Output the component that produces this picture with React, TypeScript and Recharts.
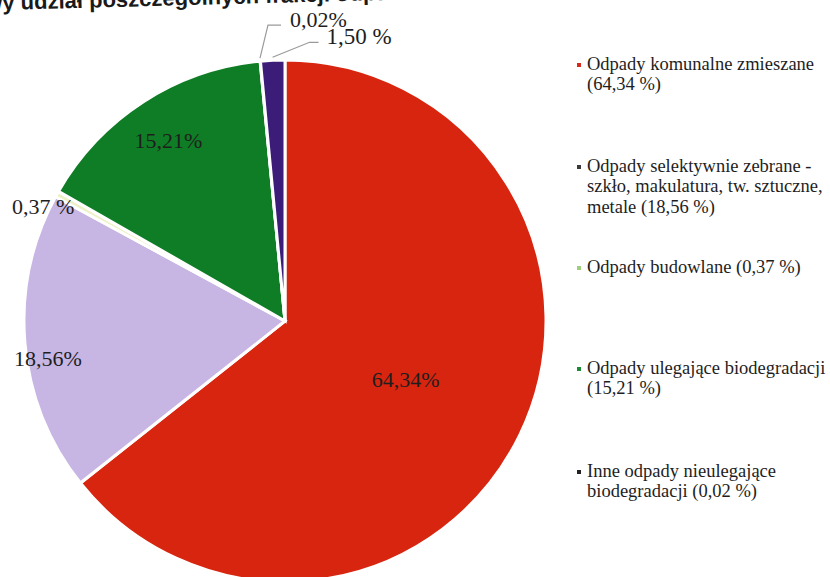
import React from "react";
import { PieChart, Pie, Cell, Legend } from "recharts";

// slices, clockwise from 12 o'clock
const categories = [
  "Odpady komunalne zmieszane",
  "Odpady selektywnie zebrane - szkło, makulatura, tw. sztuczne, metale",
  "Odpady budowlane",
  "Odpady ulegające biodegradacji",
  "Inne odpady nieulegające biodegradacji",
  "Pozostałe",
];
const shares = [64.34, 18.56, 0.37, 15.21, 0.02, 1.5];
const sliceLabels = ["64,34%", "18,56%", "0,37 %", "15,21%", "0,02%", "1,50 %"];

const legendLines = [
  ["Odpady komunalne zmieszane", "(64,34 %)"],
  ["Odpady selektywnie zebrane -", "szkło, makulatura, tw. sztuczne,", "metale  (18,56 %)"],
  ["Odpady budowlane (0,37 %)"],
  ["Odpady ulegające biodegradacji", "(15,21 %)"],
  ["Inne odpady nieulegające", "biodegradacji (0,02 %)"],
];

const title = "Procentowy udział poszczególnych frakcji odpadów w masie";

const sliceColors = ["#d8250f", "#c7b5e4", "#eef1c6", "#0f7d25", "#2a2a2a", "#3b1c78"];
const legendColors = ["#d62a1c", "#3a3a3a", "#9fcd7e", "#1d8a38", "#222222"];

const data = categories.map((name, i) => ({ name, value: shares[i] }));

const RAD = Math.PI / 180;
const FONT = '"Liberation Serif", "Times New Roman", serif';
const TEXT = "#1e1e1e";

// where the in/near-slice labels sit, relative to each slice's mid angle
const labelPos = [
  { r: 134, dx: 0, dy: 0 },
  { r: 238, dx: 0, dy: 17 },
  { r: 262, dx: -13, dy: 13 },
  { r: 215, dx: 0, dy: 0 },
];
// leader lines for the two slices at the top
const leaders: Record<number, { ex: number; ey: number; hx: number; tx: number; ty: number; size: number }> = {
  4: { ex: 8, ey: -33, hx: 13, tx: 9, ty: 2, size: 22 },
  5: { ex: 37, ey: -15, hx: 9, tx: 8, ty: 2, size: 23 },
};

const renderLabel = (props: any) => {
  const { cx, cy, midAngle, outerRadius, index } = props;
  const polar = (r: number) => [
    cx + r * Math.cos(-midAngle * RAD),
    cy + r * Math.sin(-midAngle * RAD),
  ];
  const lead = leaders[index];
  if (lead) {
    const [sx, sy] = polar(outerRadius + 3);
    const ex = sx + lead.ex;
    const ey = sy + lead.ey;
    const hx = ex + lead.hx;
    return (
      <g>
        <polyline
          points={`${sx},${sy} ${ex},${ey} ${hx},${ey}`}
          fill="none"
          stroke="#9a9a9a"
          strokeWidth={1.2}
        />
        <text x={hx + lead.tx} y={ey + lead.ty} fill={TEXT} fontFamily={FONT} fontSize={lead.size}>
          {sliceLabels[index]}
        </text>
      </g>
    );
  }
  const p = labelPos[index];
  const [x, y] = polar(p.r);
  return (
    <text
      x={x + p.dx}
      y={y + p.dy}
      fill={TEXT}
      fontFamily={FONT}
      fontSize={22}
      textAnchor="middle"
      dominantBaseline="central"
    >
      {sliceLabels[index]}
    </text>
  );
};

const legendBaselines = [70, 172, 273, 374, 477];

const LegendBox = () => (
  <div style={{ position: "relative", width: 830, height: 0 }}>
    {legendLines.map((lines, i) => (
      <React.Fragment key={i}>
        <span
          style={{
            position: "absolute",
            left: 577,
            top: legendBaselines[i] - 7,
            width: 4,
            height: 4,
            background: legendColors[i],
          }}
        />
        <div
          style={{
            position: "absolute",
            left: 587,
            top: legendBaselines[i] - 16.5,
            fontFamily: FONT,
            fontSize: 18.5,
            lineHeight: "20.5px",
            color: TEXT,
            whiteSpace: "nowrap",
            textAlign: "left",
          }}
        >
          {lines.map((l, j) => (
            <div key={j}>{l}</div>
          ))}
        </div>
      </React.Fragment>
    ))}
  </div>
);

export default function App() {
  return (
    <div
      style={{
        position: "absolute",
        left: 0,
        top: 0,
        width: 830,
        height: 577,
        overflow: "hidden",
        background: "#fff",
      }}
    >
      <div
        style={{
          position: "absolute",
          left: -110,
          top: -10,
          fontFamily: '"Liberation Sans", Arial, sans-serif',
          fontWeight: 700,
          fontSize: 22,
          lineHeight: "25px",
          color: "#1a1a1a",
          whiteSpace: "nowrap",
          transform: "rotate(-1.5deg)",
          transformOrigin: "110px 20px",
        }}
      >
        {title}
      </div>
      <PieChart
        width={830}
        height={577}
        margin={{ top: 0, right: 0, bottom: 0, left: 0 }}
        style={{ position: "absolute", left: 0, top: 0 }}
      >
        <Pie
          data={data}
          dataKey="value"
          nameKey="name"
          cx={285}
          cy={321}
          outerRadius={261}
          startAngle={90}
          endAngle={-270}
          stroke="#ffffff"
          strokeWidth={3}
          label={renderLabel}
          labelLine={false}
          isAnimationActive={false}
        >
          {data.map((d, i) => (
            <Cell key={d.name} fill={sliceColors[i]} />
          ))}
        </Pie>
        <Legend
          content={() => <LegendBox />}
          wrapperStyle={{ position: "absolute", left: 0, top: 0, width: 830, height: 0 }}
        />
      </PieChart>
    </div>
  );
}
